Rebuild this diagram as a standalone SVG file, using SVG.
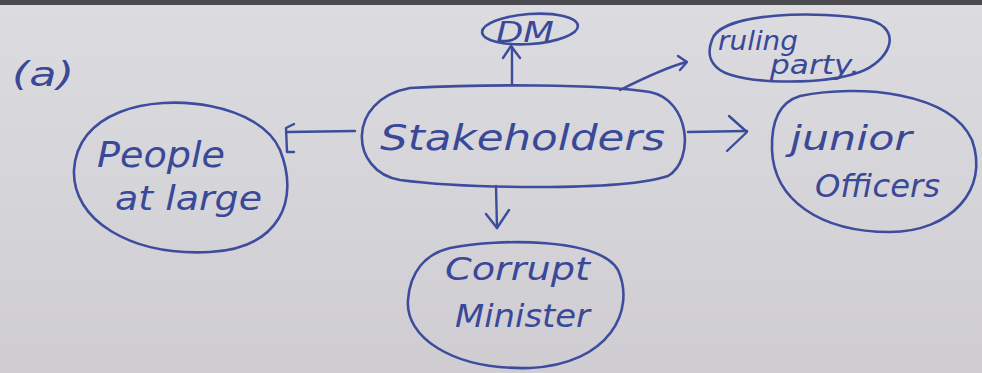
<svg xmlns="http://www.w3.org/2000/svg" width="982" height="373" viewBox="0 0 982 373">
<defs>
<linearGradient id="bg" x1="0" y1="0" x2="0" y2="1">
<stop offset="0" stop-color="#dcdce0"/>
<stop offset="1" stop-color="#cfcdd2"/>
</linearGradient>
<style>
.shape{fill:none;stroke:#3d4c9c;stroke-width:2.6;stroke-linecap:round;stroke-linejoin:round}
.ink{fill:#3a4898;font-family:"DejaVu Sans","Liberation Sans",sans-serif;font-style:italic;font-weight:300}
.line{fill:none;stroke:#3d4c9c;stroke-width:2.4;stroke-linecap:round;stroke-linejoin:round}
</style>
</defs>
<rect width="982" height="373" fill="url(#bg)"/>
<rect width="982" height="5" fill="#4a4a4e"/>
<text class="ink" x="12" y="86" font-size="34" textLength="62" lengthAdjust="spacingAndGlyphs">(a)</text>

<g id="stakeholders">
<path class="shape" d="M410,88 C480,84 600,84 650,92 C690,100 695,160 668,176 C620,192 460,188 400,180 C350,172 345,100 410,88 Z"/>
<text class="ink" x="380" y="150" font-size="36" textLength="285" lengthAdjust="spacingAndGlyphs">Stakeholders</text>
</g>

<g id="dm">
<ellipse class="shape" cx="530" cy="29" rx="48" ry="15" transform="rotate(-4 530 29)"/>
<text class="ink" x="496" y="42" font-size="28" textLength="58" lengthAdjust="spacingAndGlyphs">DM</text>
</g>

<g id="ruling-party">
<path class="shape" d="M712,40 C720,12 820,10 870,20 C905,30 888,62 860,72 C820,86 740,84 720,70 C708,62 708,50 712,40 Z"/>
<text class="ink" x="718" y="50" font-size="26" textLength="80" lengthAdjust="spacingAndGlyphs">ruling</text>
<text class="ink" x="770" y="74" font-size="26" textLength="90" lengthAdjust="spacingAndGlyphs">party.</text>
</g>

<g id="people-at-large">
<path class="shape" d="M120,112 C170,92 260,104 280,150 C300,200 280,248 210,252 C130,256 72,220 74,170 C76,140 95,122 120,112 Z"/>
<text class="ink" x="97" y="167" font-size="36" textLength="128" lengthAdjust="spacingAndGlyphs">People</text>
<text class="ink" x="115" y="210" font-size="34" textLength="147" lengthAdjust="spacingAndGlyphs">at large</text>
</g>

<g id="junior-officers">
<path class="shape" d="M800,96 C860,84 950,92 972,140 C990,190 950,232 890,232 C820,232 774,200 772,150 C771,120 780,102 800,96 Z"/>
<text class="ink" x="790" y="150" font-size="34" textLength="122" lengthAdjust="spacingAndGlyphs">junior</text>
<text class="ink" x="815" y="197" font-size="32" textLength="125" lengthAdjust="spacingAndGlyphs">Officers</text>
</g>

<g id="corrupt-minister">
<path class="shape" d="M450,248 C500,238 600,238 618,270 C636,310 610,364 530,368 C450,370 405,336 408,300 C410,272 425,254 450,248 Z"/>
<text class="ink" x="445" y="280" font-size="32" textLength="145" lengthAdjust="spacingAndGlyphs">Corrupt</text>
<text class="ink" x="455" y="327" font-size="32" textLength="135" lengthAdjust="spacingAndGlyphs">Minister</text>
</g>

<g id="connectors">
<path class="line" d="M512,84 L512,47"/>
<path class="line" d="M503,58 L511,46 L520,58"/>
<path class="line" d="M620,90 C640,80 665,68 686,62"/>
<path class="line" d="M678,56 L687,62 L680,70"/>
<path class="line" d="M355,131 L288,132"/>
<path class="line" d="M294,124 L286,128 L287,152 L294,152"/>
<path class="line" d="M688,132 L747,131"/>
<path class="line" d="M729,116 L747,132 L727,151"/>
<path class="line" d="M496,186 L497,228"/>
<path class="line" d="M486,214 L497,228 L509,210"/>
</g>
</svg>
